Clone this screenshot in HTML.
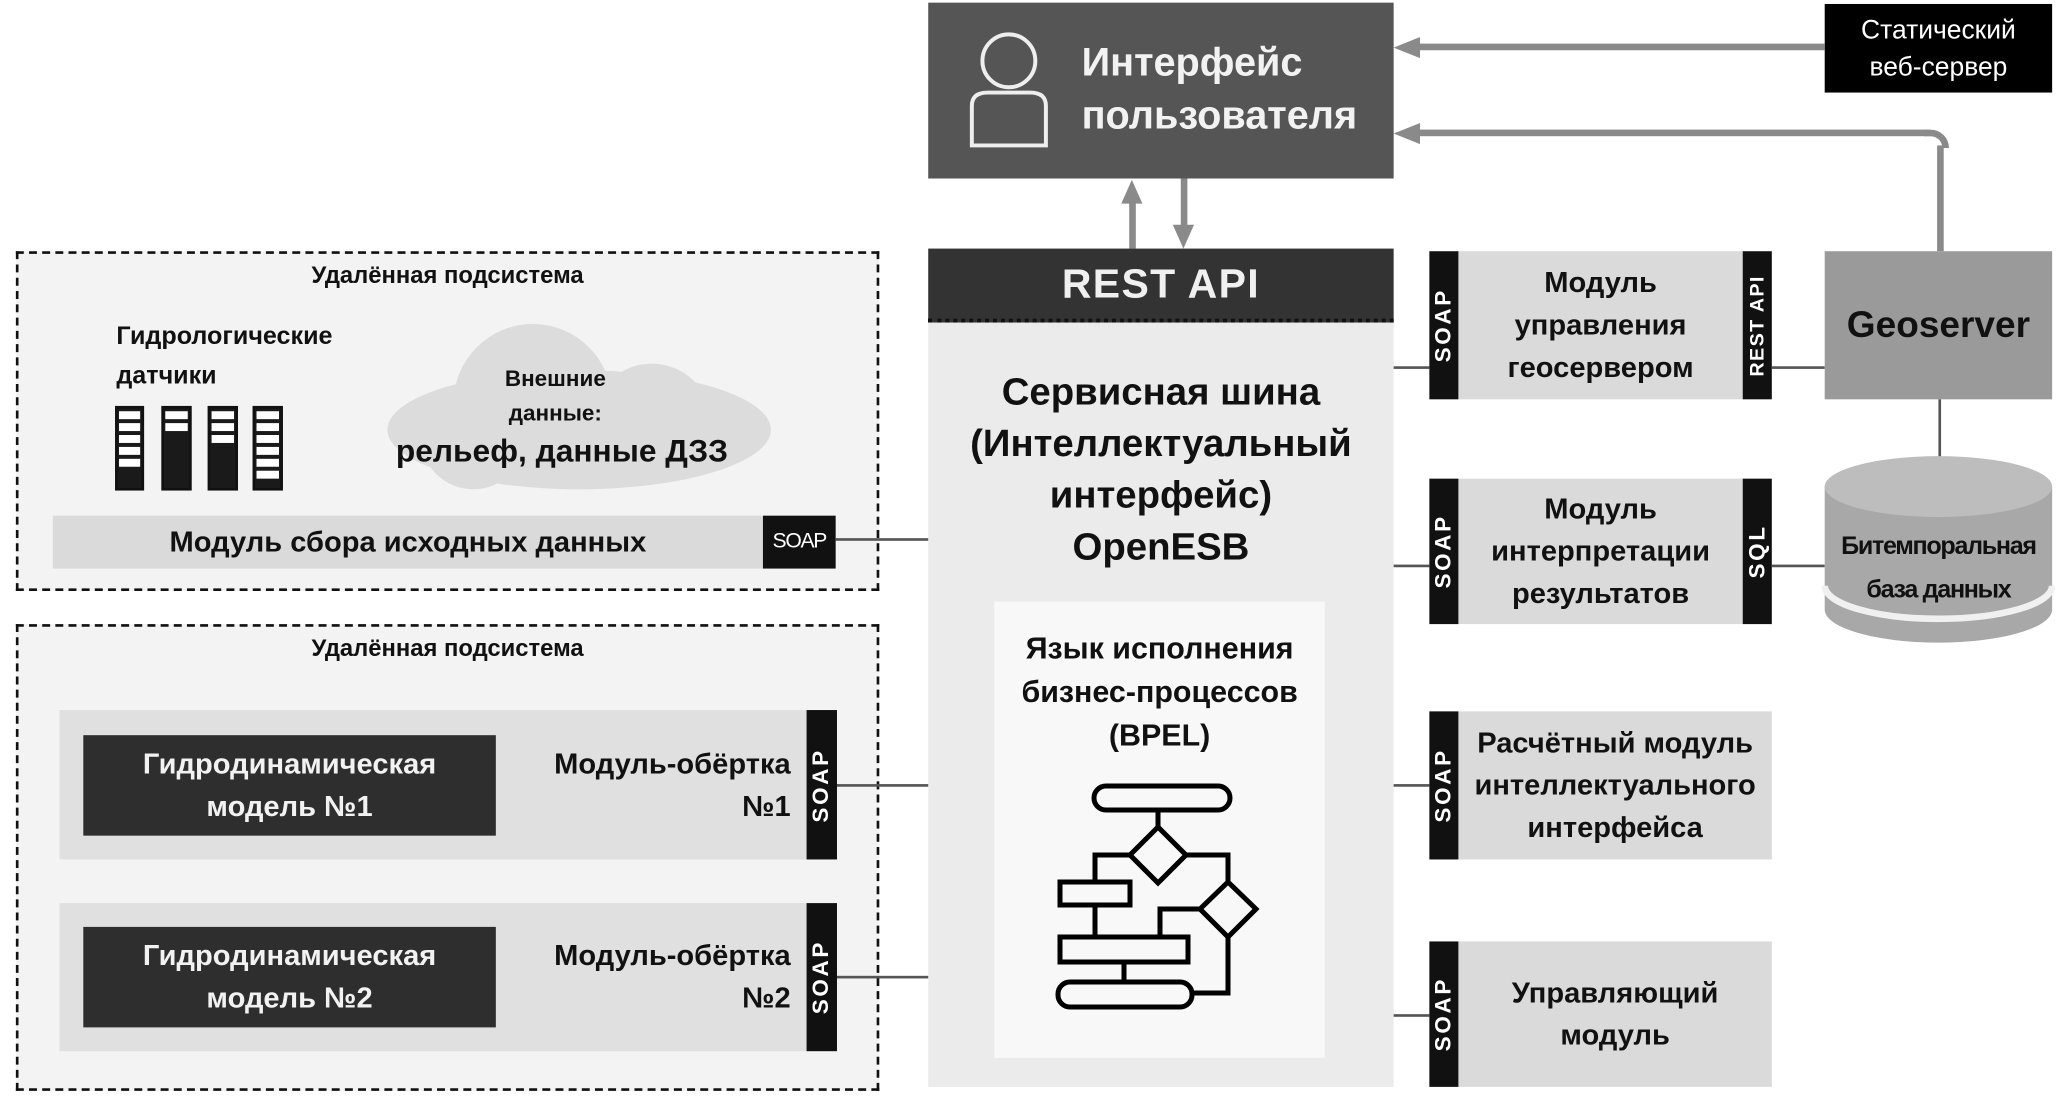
<!DOCTYPE html>
<html><head><meta charset="utf-8">
<style>
html,body{margin:0;padding:0;background:#fff;}
body{width:2068px;height:1101px;overflow:hidden;position:relative;font-family:"Liberation Sans Narrow","Liberation Sans",sans-serif;font-weight:bold;}
#c{position:absolute;left:0;top:0;width:1564px;height:833px;transform:scale(1.32225);transform-origin:0 0;}
.a{position:absolute;}
.ctr{display:flex;align-items:center;justify-content:center;text-align:center;flex-direction:column;}
.v{position:absolute;background:#111;color:#fff;display:flex;align-items:center;justify-content:center;}
.v span{transform:rotate(-90deg);white-space:nowrap;font-family:"Liberation Sans",sans-serif;font-weight:bold;letter-spacing:2px;font-size:17px;}
.ln{position:absolute;background:#555;height:2px;}
.dash{position:absolute;border:2.5px dashed #111;background:#f3f3f3;box-sizing:border-box;}
.mod{position:absolute;background:#dadada;}
.t{color:#111;}
</style></head><body>
<div id="c">
<div class="a" style="left:702px;top:2px;width:352px;height:133px;background:#555;"></div>
<svg class="a" style="left:725px;top:18px" width="80" height="100"><circle cx="38" cy="28" r="20" fill="none" stroke="#eee" stroke-width="3"/><path d="M10 92 V62 Q10 52 22 52 H54 Q66 52 66 62 V92 Z" fill="none" stroke="#eee" stroke-width="3"/></svg>
<div class="a" style="left:818px;top:28px;color:#f2f2f2;font-size:30px;line-height:40px;font-weight:bold;">Интерфейс<br>пользователя</div>
<div class="a ctr" style="left:1380px;top:3px;width:172px;height:67px;background:#000;color:#fff;font-size:20px;line-height:28px;font-weight:normal;">Статический<br>веб-сервер</div>
<div class="a" style="left:1068px;top:33px;width:312px;height:5px;background:#8a8a8a;"></div>
<svg class="a" style="left:1054px;top:25px" width="20" height="22"><polygon points="0,11 20,3 20,19" fill="#8a8a8a"/></svg>
<div class="a" style="left:1068px;top:98px;width:392px;height:5px;background:#8a8a8a;"></div>
<div class="a" style="left:1455px;top:98px;height:14px;border-top:5px solid #8a8a8a;border-right:5px solid #8a8a8a;border-top-right-radius:14px;box-sizing:border-box;width:19px;"></div>
<div class="a" style="left:1465px;top:110px;width:5px;height:80px;background:#8a8a8a;"></div>
<svg class="a" style="left:1054px;top:90px" width="20" height="22"><polygon points="0,11 20,3 20,19" fill="#8a8a8a"/></svg>
<div class="a" style="left:854px;top:152px;width:5px;height:36px;background:#8a8a8a;"></div>
<svg class="a" style="left:846px;top:136px" width="20" height="20"><polygon points="10,0 2,18 18,18" fill="#8a8a8a"/></svg>
<div class="a" style="left:893px;top:135px;width:5px;height:36px;background:#8a8a8a;"></div>
<svg class="a" style="left:885px;top:168px" width="20" height="20"><polygon points="10,20 2,2 18,2" fill="#8a8a8a"/></svg>
<div class="a ctr" style="left:702px;top:188px;width:352px;height:56px;background:#333;color:#f0f0f0;font-family:'Liberation Sans',sans-serif;font-size:31px;letter-spacing:1px;border-bottom:3px dotted #111;box-sizing:border-box;">REST API</div>
<div class="a" style="left:702px;top:244px;width:352px;height:578px;background:#ebebeb;"></div>
<div class="a ctr t" style="left:702px;top:278px;width:352px;font-size:29px;line-height:39px;">Сервисная шина<br>(Интеллектуальный<br>интерфейс)<br>OpenESB</div>
<div class="a" style="left:752px;top:455px;width:250px;height:345px;background:#f8f8f8;"></div>
<div class="a ctr t" style="left:752px;top:474px;width:250px;font-size:23px;line-height:33px;">Язык исполнения<br>бизнес-процессов<br>(BPEL)</div>
<div class="dash" style="left:12px;top:190px;width:653px;height:257px;"></div>
<div class="a ctr t" style="left:12px;top:198px;width:653px;font-size:18px;">Удалённая подсистема</div>
<div class="a t" style="left:88px;top:240px;font-size:19px;line-height:30px;">Гидрологические<br>датчики</div>
<svg class="a" style="left:86px;top:306px" width="132" height="68">
<g stroke="#111" stroke-width="2">
<rect x="2" y="2" width="20" height="62" fill="#1a1a1a"/>
<rect x="37" y="2" width="21" height="62" fill="#1a1a1a"/>
<rect x="72" y="2" width="21" height="62" fill="#1a1a1a"/>
<rect x="106" y="2" width="21" height="62" fill="#1a1a1a"/>
</g>
<g fill="#fff">
<rect x="4" y="5" width="16" height="6"/><rect x="4" y="14" width="16" height="6"/><rect x="4" y="23" width="16" height="6"/><rect x="4" y="32" width="16" height="6"/><rect x="4" y="41" width="16" height="6"/>
<rect x="39" y="5" width="17" height="6"/><rect x="39" y="14" width="17" height="6"/>
<rect x="74" y="5" width="17" height="6"/><rect x="74" y="14" width="17" height="6"/><rect x="74" y="23" width="17" height="6"/>
<rect x="108" y="5" width="17" height="6"/><rect x="108" y="14" width="17" height="6"/><rect x="108" y="23" width="17" height="6"/><rect x="108" y="32" width="17" height="6"/><rect x="108" y="41" width="17" height="6"/><rect x="108" y="50" width="17" height="6"/>
</g></svg>
<svg class="a" style="left:288px;top:245px" width="300" height="130"><g fill="#dcdcdc"><ellipse cx="150" cy="80" rx="145" ry="45"/><circle cx="115" cy="60" r="60"/><circle cx="205" cy="75" r="45"/><circle cx="70" cy="85" r="40"/></g></svg>
<div class="a ctr t" style="left:290px;top:274px;width:260px;font-size:17px;line-height:26px;">Внешние<br>данные:</div>
<div class="a ctr t" style="left:290px;top:328px;width:270px;font-size:24px;">рельеф, данные ДЗЗ</div>
<div class="mod ctr t" style="left:40px;top:390px;width:537px;height:40px;font-size:22px;">Модуль сбора исходных данных</div>
<div class="a ctr" style="left:577px;top:390px;width:55px;height:40px;background:#111;color:#fff;font-size:16px;letter-spacing:-1px;font-weight:normal;">SOAP</div>
<div class="ln" style="left:632px;top:407px;width:70px;"></div>
<div class="dash" style="left:12px;top:472px;width:653px;height:353px;"></div>
<div class="a ctr t" style="left:12px;top:480px;width:653px;font-size:18px;">Удалённая подсистема</div>
<div class="mod" style="left:45px;top:537px;width:565px;height:113px;background:#e0e0e0;"></div>
<div class="a ctr" style="left:63px;top:556px;width:312px;height:76px;background:#2e2e2e;color:#f2f2f2;font-size:22px;line-height:32px;">Гидродинамическая<br>модель №1</div>
<div class="a t" style="left:380px;top:562px;width:218px;text-align:right;font-size:22px;line-height:32px;">Модуль-обёртка<br>№1</div>
<div class="v" style="left:610px;top:537px;width:23px;height:113px;"><span>SOAP</span></div>
<div class="ln" style="left:633px;top:593px;width:69px;"></div>
<div class="mod" style="left:45px;top:683px;width:565px;height:112px;background:#e0e0e0;"></div>
<div class="a ctr" style="left:63px;top:701px;width:312px;height:76px;background:#2e2e2e;color:#f2f2f2;font-size:22px;line-height:32px;">Гидродинамическая<br>модель №2</div>
<div class="a t" style="left:380px;top:707px;width:218px;text-align:right;font-size:22px;line-height:32px;">Модуль-обёртка<br>№2</div>
<div class="v" style="left:610px;top:683px;width:23px;height:112px;"><span>SOAP</span></div>
<div class="ln" style="left:633px;top:738px;width:69px;"></div>
<div class="ln" style="left:1054px;top:277px;width:27px;"></div>
<div class="v" style="left:1081px;top:190px;width:22px;height:112px;"><span>SOAP</span></div>
<div class="mod ctr t" style="left:1103px;top:190px;width:215px;height:112px;font-size:22px;line-height:32px;">Модуль<br>управления<br>геосервером</div>
<div class="v" style="left:1318px;top:190px;width:22px;height:112px;"><span style="font-size:15px;letter-spacing:1px">REST API</span></div>
<div class="ln" style="left:1340px;top:277px;width:40px;"></div>
<div class="a ctr" style="left:1380px;top:190px;width:172px;height:112px;background:#9a9a9a;color:#111;font-size:28px;">Geoserver</div>
<div class="ln" style="left:1466px;top:302px;width:2px;height:55px;"></div>
<div class="ln" style="left:1054px;top:427px;width:27px;"></div>
<div class="v" style="left:1081px;top:362px;width:22px;height:110px;"><span>SOAP</span></div>
<div class="mod ctr t" style="left:1103px;top:362px;width:215px;height:110px;font-size:22px;line-height:32px;">Модуль<br>интерпретации<br>результатов</div>
<div class="v" style="left:1318px;top:362px;width:22px;height:110px;"><span>SQL</span></div>
<div class="ln" style="left:1340px;top:427px;width:40px;"></div>
<svg class="a" style="left:1378px;top:343px" width="176" height="150"><path d="M2 25 V118 A86 25 0 0 0 174 118 V25" fill="#a8a8a8"/><ellipse cx="88" cy="25" rx="86" ry="23" fill="#bdbdbd"/><path d="M2 100 A86 25 0 0 0 174 100" fill="none" stroke="#f0f0f0" stroke-width="5"/></svg>
<div class="a ctr t" style="left:1380px;top:397px;width:172px;font-size:19px;line-height:33px;letter-spacing:-1px;">Битемпоральная<br>база данных</div>
<div class="ln" style="left:1054px;top:593px;width:27px;"></div>
<div class="v" style="left:1081px;top:538px;width:22px;height:112px;"><span>SOAP</span></div>
<div class="mod ctr t" style="left:1103px;top:538px;width:237px;height:112px;font-size:22px;line-height:32px;">Расчётный модуль<br>интеллектуального<br>интерфейса</div>
<div class="ln" style="left:1054px;top:767px;width:27px;"></div>
<div class="v" style="left:1081px;top:712px;width:22px;height:110px;"><span>SOAP</span></div>
<div class="mod ctr t" style="left:1103px;top:712px;width:237px;height:110px;font-size:22px;line-height:32px;">Управляющий<br>модуль</div>
</div>
<svg class="a" style="left:0;top:0;position:absolute" width="2068" height="1101">
<g fill="none" stroke="#000" stroke-width="5">
<rect x="1094" y="786" width="136" height="24" rx="12"/>
<line x1="1158" y1="810" x2="1158" y2="827"/>
<polygon points="1158,827 1186,855 1158,883 1130,855"/>
<polyline points="1130,855 1095,855 1095,882"/>
<polyline points="1186,855 1228,855 1228,882"/>
<rect x="1060" y="882" width="70" height="23"/>
<line x1="1095" y1="905" x2="1095" y2="937"/>
<polygon points="1228,882 1256,909 1228,937 1200,909"/>
<polyline points="1200,909 1160,909 1160,937"/>
<rect x="1060" y="937" width="128" height="25"/>
<line x1="1124" y1="962" x2="1124" y2="982"/>
<rect x="1058" y="982" width="134" height="25" rx="12"/>
<polyline points="1228,937 1228,993 1192,993"/>
</g></svg>
</body></html>
